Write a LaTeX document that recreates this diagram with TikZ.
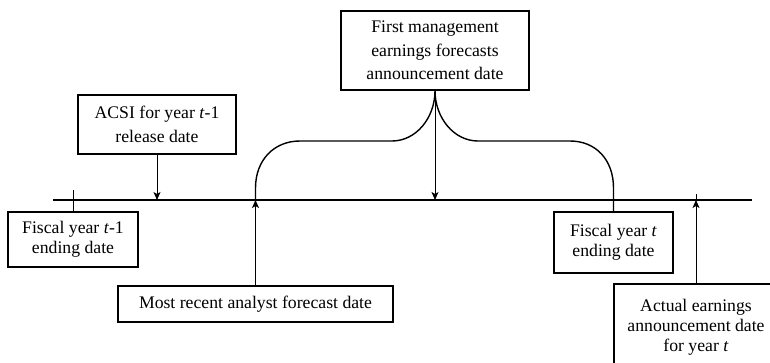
\documentclass[tikz,border=0pt]{standalone}
\usepackage{fontspec}
\setmainfont{Liberation Serif}
\usepackage{tikz}
\usetikzlibrary{arrows.meta, positioning, calc}

\begin{document}
\begin{tikzpicture}[x=1pt, y=-1pt,
        box/.style={rectangle, draw, line width=1.1pt, align=center, inner sep=0pt, font=\fontsize{17.7}{20}\selectfont},
        widebox/.style={box, font=\fontsize{17.7}{23.3}\selectfont},
        arrow/.style={-{Stealth[length=8pt, width=7pt, inset=2pt]}, line width=1pt},
        link/.style={line width=1pt},
        bracket/.style={line width=1.4pt},
        timeline/.style={line width=1.3pt}
    ]
        \useasboundingbox[fill=white] (0,0) rectangle (770,362);

        % Timeline
        \coordinate (tlL) at (53,200);
        \coordinate (tlR) at (752,200);
        \draw[timeline] (tlL) -- (tlR);

        % Boxes above the timeline
        \node[widebox, minimum width=158pt, minimum height=59pt] (acsi) at (157,124.5) {ACSI for year \textit{t}-1\\release date};
        \node[widebox, minimum width=188pt, minimum height=79pt] (mgmt) at (435,50.5) {First management\\earnings forecasts\\announcement date};

        % Boxes below the timeline
        \node[box, minimum width=130pt, minimum height=55pt] (fyprev) at (73,239.5) {Fiscal year \textit{t}-1\\ending date};
        \node[box, minimum width=275pt, minimum height=36pt] (analyst) at (255.5,304) {Most recent analyst forecast date};
        \node[box, minimum width=119pt, minimum height=61pt] (fycur) at (613.5,242.5) {Fiscal year \textit{t}\\ending date};
        \node[box, minimum width=164pt, minimum height=86pt] (actual) at (696,327) {Actual earnings\\announcement date\\for year \textit{t}};

        % Ticks on the timeline
        \coordinate (tickprev) at ($(fyprev.north |- tlL)+(0,-10)$);
        \coordinate (tickact) at ($(actual.north |- tlL)+(0,-6)$);
        \draw[link] (tickprev) -- (fyprev.north);
        \draw[link] (tickact) -- (actual.north |- tlL);

        % Arrows onto the timeline
        \draw[arrow] (acsi.south) -- (acsi.south |- tlL);
        \draw[arrow] (mgmt.south) -- (mgmt.south |- tlL);
        \draw[arrow] (analyst.north) -- (analyst.north |- tlL);
        \draw[arrow] (actual.north) -- (actual.north |- tlL);

        % Brace from analyst date to fiscal year end
        \draw[bracket] (analyst.north |- tlL) -- ++(0,-12)
            .. controls (255.5,160) and (274,141) .. (300,141) -- (392,141)
            .. controls (416,141) and (435,118) .. (mgmt.south)
            .. controls (435,118) and (454,141) .. (478,141) -- (570,141)
            .. controls (596,141) and (613.5,160) .. ($(fycur.north |- tlL)+(0,-12)$) -- (fycur.north);

    \end{tikzpicture}
\end{document}
